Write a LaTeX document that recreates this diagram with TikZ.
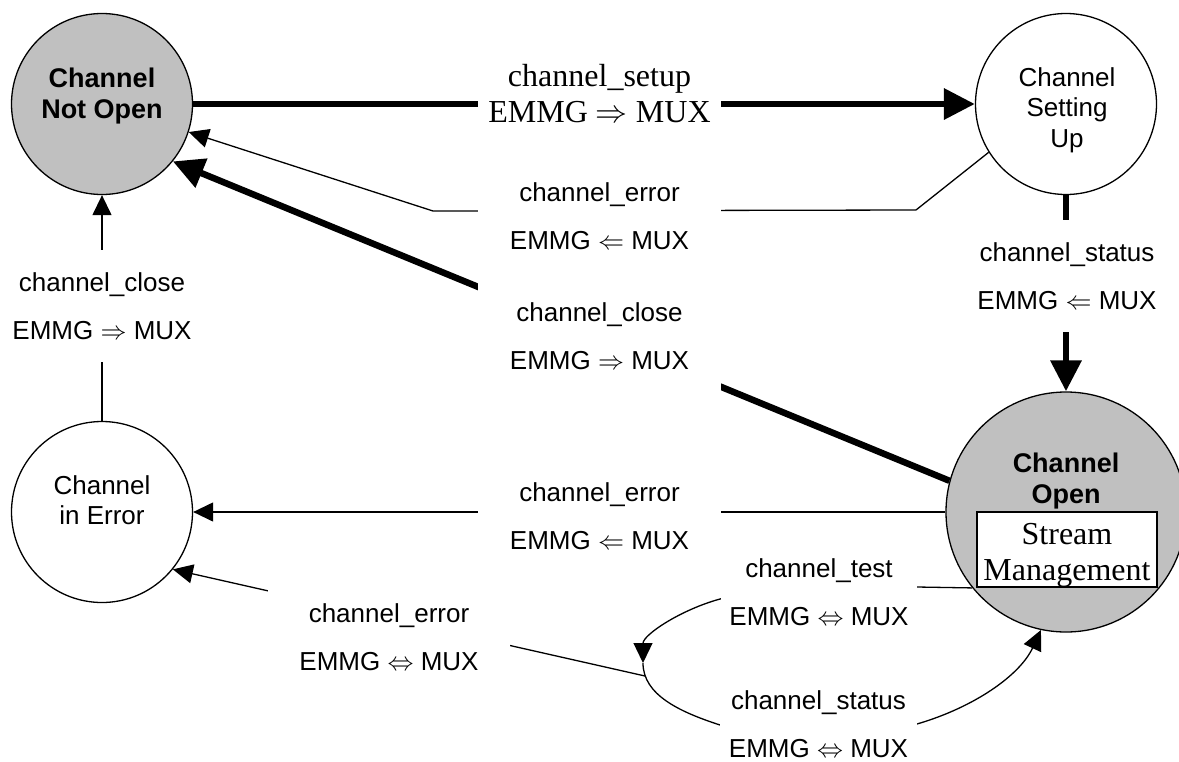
\RequirePackage{fix-cm}
\documentclass[tikz,border=0pt]{standalone}
\usepackage{fontspec}
\setmainfont{Liberation Serif}
\setsansfont{Liberation Sans}
\usetikzlibrary{arrows.meta}
\definecolor{stategray}{HTML}{C0C0C0}
\tikzset{
  state/.style={circle, draw, line width=1.3pt, minimum size=181pt, inner sep=0pt},
  bigstate/.style={state, minimum size=240pt},
  stxt/.style={font=\sffamily\fontsize{26}{30.5}\selectfont, align=center, inner sep=0pt},
  bstxt/.style={font=\sffamily\bfseries\fontsize{27}{31}\selectfont, align=center, inner sep=0pt},
  lbl/.style={font=\sffamily\fontsize{26}{48}\selectfont, align=center, fill=white, inner sep=0pt},
  serlbl/.style={font=\rmfamily\fontsize{32}{36}\selectfont, align=center, fill=white, inner sep=0pt},
  thinarrow/.style={line width=1.3pt, -{Triangle[length=20pt,width=19pt]}},
  thickarrow/.style={line width=6.5pt, -{Triangle[length=31pt,width=30pt]}},
  streambox/.style={draw, fill=white, line width=1.3pt, minimum width=180pt, minimum height=75pt, inner sep=0pt},
  streamtxt/.style={font=\rmfamily\fontsize{32}{36}\selectfont, align=center, inner sep=0pt}
}
\begin{document}
\begin{tikzpicture}[x=1pt,y=-1pt]
\useasboundingbox (0,0) rectangle (1179,761);
\clip (0,0) rectangle (1179,761);
% states
\node[state, fill=stategray] (NotOpen) at (102,104) {};
\node[state] (SettingUp) at (1066,104) {};
\node[state] (InError) at (102,512) {};
\node[bigstate, fill=stategray] (Open) at (1066,512) {};
\node[bstxt] (tNotOpen) at (102,96) {Channel\\Not Open};
\node[stxt] (tSetting) at (1067,110) {Channel\\Setting\\Up};
\node[stxt] (tError) at (102,500) {Channel\\in Error};
\node[bstxt] (tOpen) at (1066,481) {Channel\\Open};
\node[streambox] (Stream) at (1067,549.5) {};
\node[streamtxt] (tStream) at (1067,555) {Stream\\Management};
% connectors
\draw[thickarrow] (NotOpen) -- (SettingUp);
\draw[thinarrow] (SettingUp.212) -- (916,210) -- (433,211) -- (NotOpen);
\draw[thickarrow] (Open.165) -- (NotOpen.-39);
\draw[thickarrow] (SettingUp) -- (Open);
\draw[thinarrow] (InError) -- (NotOpen);
\draw[thinarrow] (Open) -- (InError);
\coordinate (J) at (643,663);
\coordinate (E) at (645,676);
\draw[thinarrow] (Open.219) -- (917,587) .. controls (850,587) and (760,590) .. (720,599)
  .. controls (680,610) and (643,635) .. (J);
\draw[thinarrow] (J) .. controls (643,695) and (680,712) .. (720,725) -- (917,724)
  .. controls (975,707) and (1020,675) .. (Open.258);
\draw[thinarrow] (E) -- (InError.-39);
% labels
\node[serlbl, minimum width=243pt, minimum height=40pt] (lSetup) at (599.5,94) {channel\_setup\\EMMG $\Rightarrow$ MUX};
\node[lbl, minimum width=243pt, minimum height=40pt] (lErrA) at (599.5,216) {channel\_error\\EMMG $\Leftarrow$ MUX};
\node[lbl, minimum width=243pt, minimum height=114pt] (lCloseA) at (599.5,336) {channel\_close\\EMMG $\Rightarrow$ MUX};
\node[lbl, minimum width=185pt, minimum height=112pt] (lStatusA) at (1067,276) {channel\_status\\EMMG $\Leftarrow$ MUX};
\node[lbl, minimum width=185pt, minimum height=112pt] (lCloseB) at (102,306) {channel\_close\\EMMG $\Rightarrow$ MUX};
\node[lbl, minimum width=243pt, minimum height=40pt] (lErrB) at (599.5,516) {channel\_error\\EMMG $\Leftarrow$ MUX};
\node[lbl, minimum width=242pt, minimum height=100pt] (lErrC) at (389,637.5) {channel\_error\\EMMG $\Leftrightarrow$ MUX};
\node[lbl, minimum width=196pt, minimum height=40pt] (lTest) at (819,592) {channel\_test\\EMMG $\Leftrightarrow$ MUX};
\node[lbl, minimum width=197pt, minimum height=40pt] (lStatusB) at (818.5,724) {channel\_status\\EMMG $\Leftrightarrow$ MUX};
\end{tikzpicture}
\end{document}
